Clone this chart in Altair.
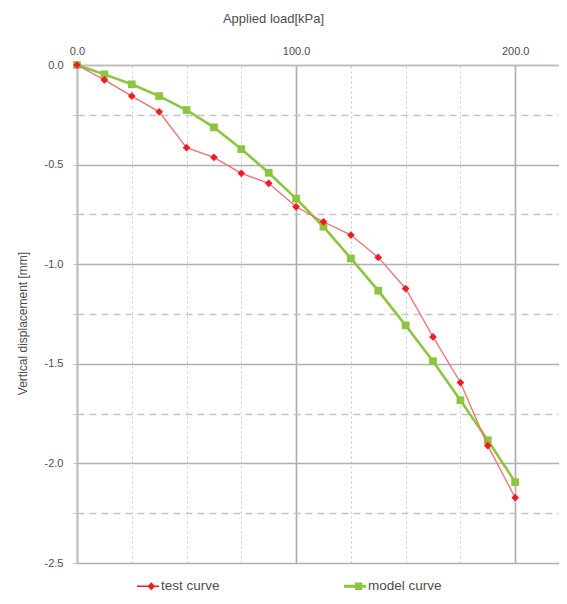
import altair as alt
import pandas as pd

# ---- data ----
load_kpa = [0, 12.5, 25, 37.5, 50, 62.5, 75, 87.5, 100, 112.5, 125, 137.5, 150, 162.5, 175, 187.5, 200]
test_curve = [0, -0.075, -0.156, -0.235, -0.415, -0.464, -0.544, -0.594, -0.712,
              -0.787, -0.854, -0.966, -1.122, -1.365, -1.594, -1.911, -2.172]
model_curve = [0, -0.047, -0.097, -0.156, -0.226, -0.313, -0.422, -0.541, -0.671,
               -0.812, -0.971, -1.133, -1.307, -1.487, -1.683, -1.884, -2.094]
series_names = ["test curve", "model curve"]
x_ticks = [0, 25, 50, 75, 100, 125, 150, 175, 200]
y_ticks = [0, -0.25, -0.5, -0.75, -1.0, -1.25, -1.5, -1.75, -2.0, -2.25, -2.5]

RED = "#ee1c24"
RED_LINE = "#ef6f72"
GREEN = "#8cc63f"
FONT = "Liberation Sans"
TXT = "#4d4d4d"

rows = []
for name, vals in zip(series_names, [test_curve, model_curve]):
    for xv, yv in zip(load_kpa, vals):
        rows.append({"load": xv, "disp": yv, "series": name})
df = pd.DataFrame(rows)

x_axis = alt.Axis(
    orient="top", values=x_ticks, title="Applied load[kPa]",
    labelExpr="datum.value % 100 == 0 ? format(datum.value, '.1f') : ''",
    ticks=False, labelPadding=9, labelFontSize=11, labelColor=TXT, labelFont=FONT,
    labelFlush=False, labelOverlap=False,
    titleFontSize=13, titleFont=FONT, titleColor=TXT, titleFontWeight="normal",
    titleX=196, titleY=-47, titleBaseline="middle",
    domainColor="#bdbdbd", domainWidth=1.6,
    grid=True,
    gridDash={"condition": {"test": "datum.value % 100 != 0", "value": [2, 3]}, "value": []},
    gridColor={"condition": {"test": "datum.value % 100 != 0", "value": "#c8c8c8"}, "value": "#b0b0b0"},
    gridWidth={"condition": {"test": "datum.value % 100 != 0", "value": 1}, "value": 1.7},
)
y_axis = alt.Axis(
    values=y_ticks, title="Vertical displacement [mm]",
    labelExpr="round(datum.value * 4) % 2 == 0 ? replace(format(datum.value, '.1f'), '\u2212', '-') : ''",
    tickSize=4, tickColor="#bdbdbd", labelPadding=10, labelFontSize=11, labelColor=TXT, labelFont=FONT,
    labelFlush=False, labelOverlap=False,
    titleFontSize=12, titleFont=FONT, titleColor=TXT, titleFontWeight="normal",
    titleX=-55, titleY=258, titleBaseline="middle",
    domainColor="#bdbdbd", domainWidth=1.6,
    grid=True,
    gridDash={"condition": {"test": "round(datum.value * 4) % 2 != 0", "value": [7, 5]}, "value": []},
    gridColor={"condition": {"test": "round(datum.value * 4) % 2 != 0", "value": "#c4c4c4"}, "value": "#b0b0b0"},
    gridWidth={"condition": {"test": "round(datum.value * 4) % 2 != 0", "value": 1.5}, "value": 1.7},
)

xs = alt.Scale(domain=[0, 220], nice=False)
ys = alt.Scale(domain=[-2.5, 0], nice=False)

X = alt.X("load:Q", scale=xs, axis=x_axis)
Y = alt.Y("disp:Q", scale=ys, axis=y_axis)

base = alt.Chart(df)

g_line = base.transform_filter(alt.datum.series == "model curve").mark_line(
    color=GREEN, strokeWidth=2.6).encode(x=X, y=Y)
g_pts = base.transform_filter(alt.datum.series == "model curve").mark_point(
    shape="square", filled=True, size=60, color=GREEN, opacity=1).encode(x=X, y=Y)
r_line = base.transform_filter(alt.datum.series == "test curve").mark_line(
    color=RED_LINE, strokeWidth=1.3).encode(x=X, y=Y)
r_pts = base.transform_filter(alt.datum.series == "test curve").mark_point(
    shape="diamond", filled=True, size=60, color=RED, opacity=1).encode(x=X, y=Y)

leg = alt.Legend(
    title=None, orient="none", legendX=60, legendY=510, direction="horizontal",
    symbolSize=484, labelFontSize=13.5, labelFont=FONT, labelColor=TXT,
    labelOffset=2, columnPadding=124, padding=0, symbolStrokeWidth=0,
)
sym_paths = [
    "M-1,-0.07H1V0.07H-1Z M0.3,-0.36L0.66,0L0.3,0.36L-0.06,0Z",
    "M-1,-0.13H1V0.13H-1Z M0.0,-0.34H0.66V0.34H0.0Z",
]
legend_layer = base.transform_filter("false").mark_point(filled=True, opacity=1).encode(
    x=X, y=Y,
    color=alt.Color("series:N", scale=alt.Scale(domain=series_names, range=[RED, GREEN]), legend=leg),
    shape=alt.Shape("series:N", scale=alt.Scale(domain=series_names, range=sym_paths), legend=leg),
)

chart = alt.layer(g_line, g_pts, r_line, r_pts, legend_layer).properties(
    width=482, height=498,
    autosize=alt.AutoSizeParams(type="none"),
    padding={"left": 69, "top": 57, "right": 0, "bottom": 32},
    background="white",
).configure_view(stroke=None)

chart.save("out.html", embed_options={"renderer": "svg", "actions": False})
